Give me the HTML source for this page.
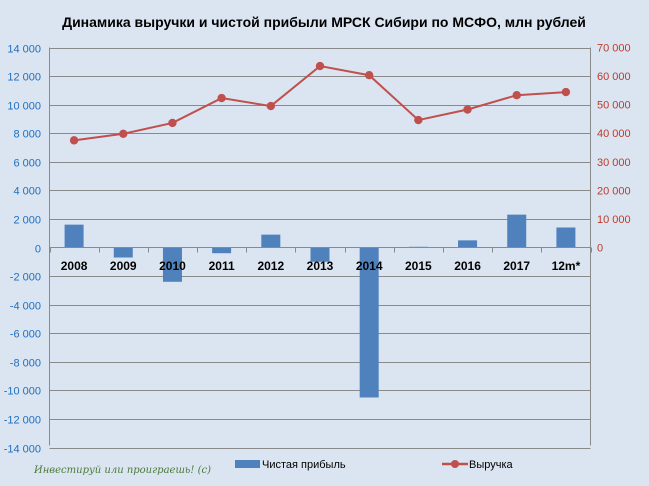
<!DOCTYPE html>
<html><head><meta charset="utf-8"><style>body{margin:0;background:#dbe5f1;}svg{display:block}</style></head><body>
<svg width="649" height="486" xmlns="http://www.w3.org/2000/svg" font-family="'Liberation Sans',sans-serif">
<rect width="649" height="486" fill="#dbe5f1"/>
<text x="324" y="27" text-anchor="middle" font-size="14" font-weight="bold" fill="#000">Динамика выручки и чистой прибыли МРСК Сибири по МСФО, млн рублей</text>
<g id="grid" stroke="#8a8a8a" stroke-width="1"></g>
<g id="bars" fill="#4f81bd"></g>
<g id="axis"></g>
<g id="line"></g>
<g font-size="11">
<rect x="235" y="460" width="25" height="8" fill="#4f81bd"/>
<text x="262" y="468" fill="#000">Чистая прибыль</text>
<line x1="442" y1="464" x2="468" y2="464" stroke="#c0504d" stroke-width="2.5"/>
<circle cx="455" cy="464" r="4" fill="#c0504d"/>
<text x="469" y="468" fill="#000">Выручка</text>
<text x="34" y="473" font-size="10" font-style="italic" fill="#4a7a3a" font-family="'DejaVu Serif',serif">Инвестируй или проиграешь! (c)</text>
</g>
<script>
const ns="http://www.w3.org/2000/svg";
function el(p,t,a,txt){const e=document.createElementNS(ns,t);for(const k in a)e.setAttribute(k,a[k]);if(txt!==undefined)e.textContent=txt;document.getElementById(p).appendChild(e);return e;}
const L=49.5,R=590.5,T=47.5,Z=247.5,B=445.5,step=(R-L)/11;
const yl=v=>Z-(v/14000)*(Z-T);
const yr=v=>Z-(v/70000)*(Z-T);
for(let v=-14000;v<=14000;v+=2000){const y=Math.round(yl(v))+0.5;
 if(v!==0)el('grid','line',{x1:L,x2:R,y1:y,y2:y});
 el('axis','text',{x:41,y:y+4,'text-anchor':'end','font-size':'11',fill:'#1f6fbf'},v.toLocaleString('ru-RU').replace(/\u00a0/g,' ').replace('-','-'));}
for(let v=0;v<=70000;v+=10000){const y=yr(v);
 el('axis','text',{x:597,y:y+4,'font-size':'11',fill:'#c0392b'},v===0?'0':(v/1000)+' 000');}
el('grid','line',{x1:L,x2:L,y1:T,y2:B});
el('grid','line',{x1:R,x2:R,y1:T,y2:B});
const cats=['2008','2009','2010','2011','2012','2013','2014','2015','2016','2017','12m*'];
const np=[1600,-700,-2400,-400,900,-1000,-10500,50,500,2300,1400];
const rev=[37500,39800,43600,52300,49500,63500,60300,44600,48300,53300,54400];
cats.forEach((c,i)=>{const cx=L+step*(i+0.5);
 const y=yl(np[i]);el('bars','rect',{x:cx-9.5,y:Math.min(y,Z),width:19,height:Math.abs(Z-y)});
 el('axis','text',{x:cx,y:270,'text-anchor':'middle','font-size':'12','font-weight':'bold',fill:'#000'},c);});
el('axis','line',{x1:L,x2:R,y1:Z,y2:Z,stroke:'#8a8a8a'});
for(let i=0;i<=11;i++){const x=Math.round(L+step*i)+0.5;el('axis','line',{x1:x,x2:x,y1:Z,y2:Z+5,stroke:'#8a8a8a'});}
let pts=rev.map((v,i)=>(L+step*(i+0.5))+','+yr(v)).join(' ');
el('line','polyline',{points:pts,fill:'none',stroke:'#c0504d','stroke-width':2});
rev.forEach((v,i)=>el('line','circle',{cx:L+step*(i+0.5),cy:yr(v),r:4.2,fill:'#c0504d'}));
</script>
</svg>
</body></html>
